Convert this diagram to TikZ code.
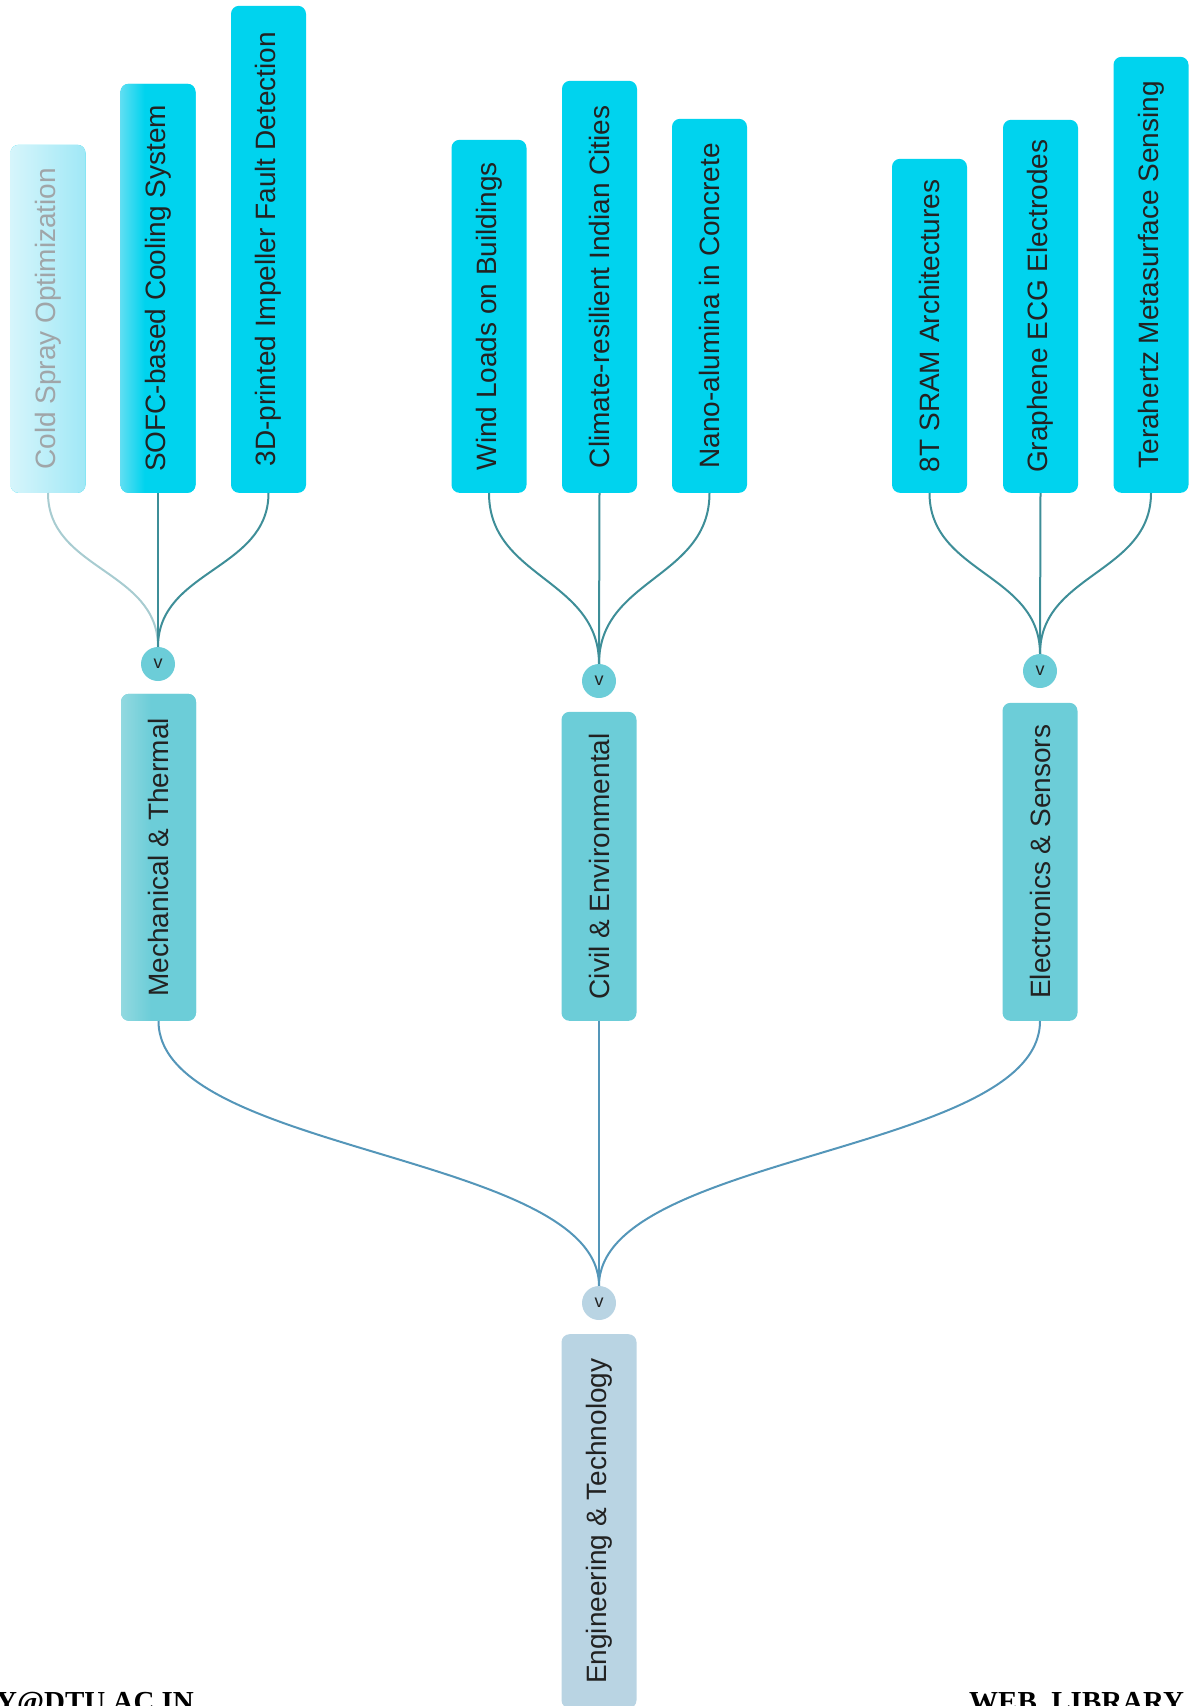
\documentclass[tikz,border=0pt]{standalone}
\usepackage{fontspec}
\setmainfont{Liberation Sans}
\newfontfamily\footfont{Liberation Serif}
\usetikzlibrary{calc,shadings}
\definecolor{leafc}{RGB}{0,211,238}
\definecolor{leafl}{RGB}{95,222,242}
\definecolor{fadel}{RGB}{214,245,251}
\definecolor{fader}{RGB}{160,232,246}
\definecolor{midc}{RGB}{108,205,216}
\definecolor{midl}{RGB}{146,217,224}
\definecolor{rootc}{RGB}{185,212,227}
\definecolor{linka}{RGB}{62,142,152}
\definecolor{linkb}{RGB}{84,150,185}
\definecolor{txt}{RGB}{34,34,34}
\definecolor{fadetxt}{RGB}{160,165,168}
\pgfdeclarehorizontalshading{sofcsh}{100bp}{color(0bp)=(leafl); color(25bp)=(leafl); color(41bp)=(leafc); color(100bp)=(leafc)}
\pgfdeclarehorizontalshading{mechsh}{100bp}{color(0bp)=(midl); color(25bp)=(midl); color(45bp)=(midc); color(100bp)=(midc)}
\pgfdeclarehorizontalshading{fadesh}{100bp}{color(0bp)=(fadel); color(25bp)=(fadel); color(75bp)=(fader); color(100bp)=(fader)}
\newcommand{\dlink}[3][]{%
  \path ($(#2)!0.5!(#3)$) coordinate (dlm);
  \draw[#1] (#2) .. controls (#2 |- dlm) and (#3 |- dlm) .. (#3);}
\tikzset{
  boxbase/.style={rounded corners=8pt, minimum width=75pt, inner xsep=0pt, inner ysep=4pt,
    text=txt, font=\fontsize{28}{30}\selectfont},
  leaf/.style={boxbase, fill=leafc, anchor=south},
  midbox/.style={boxbase, fill=midc, anchor=south},
  rootbox/.style={boxbase, fill=rootc, anchor=north},
  circ/.style={circle, fill=midc, minimum size=34pt, inner sep=0pt, text=txt,
    font=\fontsize{18}{18}\selectfont},
  leaflink/.style={draw=linka, line width=2pt},
  rootlink/.style={draw=linkb, line width=2pt},
  foot/.style={inner sep=0pt, font=\footfont\bfseries\fontsize{29}{30}\selectfont, text=black}
}
\begin{document}
\begin{tikzpicture}[x=1pt,y=-1pt]
\useasboundingbox (0,0) rectangle (1189,1706);
\clip (0,0) rectangle (1189,1706);
% leaves
\node[leaf, shading=fadesh, text=fadetxt, minimum height=348pt] (l1) at (48,493) {\rotatebox{90}{Cold Spray Optimization}};
\node[leaf, shading=sofcsh, minimum height=409pt] (l2) at (158,493) {\rotatebox{90}{SOFC-based Cooling System}};
\node[leaf, minimum height=487pt] (l3) at (268.5,493) {\rotatebox{90}{3D-printed Impeller Fault Detection}};
\node[leaf, minimum height=353pt] (l4) at (489,493) {\rotatebox{90}{Wind Loads on Buildings}};
\node[leaf, minimum height=412pt] (l5) at (599.5,493) {\rotatebox{90}{Climate-resilient Indian Cities}};
\node[leaf, minimum height=374pt] (l6) at (709.5,493) {\rotatebox{90}{Nano-alumina in Concrete}};
\node[leaf, minimum height=334pt] (l7) at (929.5,493) {\rotatebox{90}{8T SRAM Architectures}};
\node[leaf, minimum height=373pt] (l8) at (1040.5,493) {\rotatebox{90}{Graphene ECG Electrodes}};
\node[leaf, minimum height=436pt] (l9) at (1151,493) {\rotatebox{90}{Terahertz Metasurface Sensing}};
% toggles
\node[circ] (c1) at (158,664) {v};
\node[circ] (c2) at (599,681) {v};
\node[circ] (c3) at (1040,671) {v};
\node[circ, fill=rootc] (c0) at (599,1303) {v};
% middle level
\node[midbox, shading=mechsh, minimum height=327pt] (m1) at (158.5,1021) {\rotatebox{90}{Mechanical \& Thermal}};
\node[midbox, minimum height=309pt] (m2) at (599,1021) {\rotatebox{90}{Civil \& Environmental}};
\node[midbox, minimum height=318pt] (m3) at (1040,1021) {\rotatebox{90}{Electronics \& Sensors}};
% root
\node[rootbox, minimum height=374pt] (r) at (599,1334) {\rotatebox{90}{Engineering \& Technology}};
% links
\dlink[leaflink, draw opacity=0.45]{l1.south}{c1.north}
\dlink[leaflink]{l2.south}{c1.north}
\dlink[leaflink]{l3.south}{c1.north}
\dlink[leaflink]{l4.south}{c2.north}
\dlink[leaflink]{l5.south}{c2.north}
\dlink[leaflink]{l6.south}{c2.north}
\dlink[leaflink]{l7.south}{c3.north}
\dlink[leaflink]{l8.south}{c3.north}
\dlink[leaflink]{l9.south}{c3.north}
\dlink[rootlink]{m1.south}{c0.north}
\dlink[rootlink]{m2.south}{c0.north}
\dlink[rootlink]{m3.south}{c0.north}
% footer
\node[foot, anchor=base west] (f1) at (-4,1711) {Y@DTU.AC.IN};
\node[foot, anchor=base west] (f2) at (969,1711) {WEB\_LIBRARY};
\end{tikzpicture}
\end{document}
